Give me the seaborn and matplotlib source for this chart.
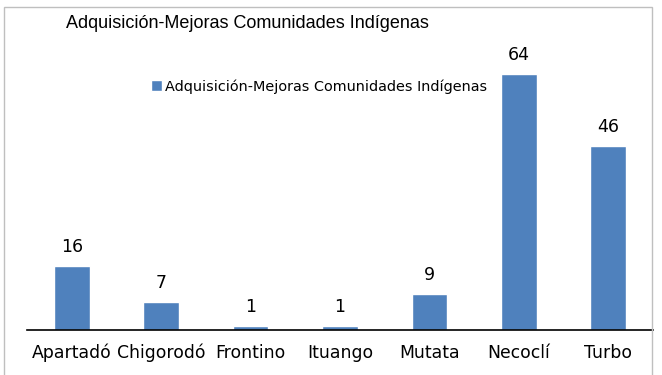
import matplotlib
matplotlib.use("Agg")
import matplotlib.pyplot as plt
from matplotlib.patches import Rectangle
import seaborn as sns
import pandas as pd

municipios = ["Apartadó", "Chigorodó", "Frontino", "Ituango", "Mutata", "Necoclí", "Turbo"]
valores = [16, 7, 1, 1, 9, 64, 46]
serie = "Adquisición-Mejoras Comunidades Indígenas"

df = pd.DataFrame({"municipio": municipios, "valor": valores, "serie": serie})

sns.set_style("white")
fig = plt.figure(figsize=(6.62, 3.75), dpi=100)
ax = fig.add_axes([27 / 662, 0.12, 626 / 662, 280 / 375])

sns.barplot(data=df, x="municipio", y="valor", hue="serie", palette=["#4F81BD"],
            width=0.40, ax=ax, saturation=1)

ax.set_ylim(0, 70)
ax.set_xlim(-0.5, 6.5)
ax.set_yticks([])
ax.set_xlabel("")
ax.set_ylabel("")
for s in ["top", "right", "left"]:
    ax.spines[s].set_visible(False)
ax.spines["bottom"].set_color("black")
ax.spines["bottom"].set_linewidth(1.2)
ax.tick_params(axis="x", length=0, labelsize=12.4, pad=10, labelcolor="black")

for c in ax.containers:
    ax.bar_label(c, fontsize=12.5, padding=7, color="black")

leg = ax.legend(loc="upper left", bbox_to_anchor=(0.177, 0.942), frameon=False,
                fontsize=10.4, handlelength=0.75, handleheight=0.75, handletextpad=0.25)
for t in leg.get_texts():
    t.set_color("black")

fig.text(66 / 662, 1 - 23 / 375, serie, fontsize=13, family="Liberation Sans",
         va="center", ha="left", color="black")

fig.patches.append(Rectangle((4 / 662, -0.1), 648 / 662, 1.1 - 7 / 375,
                             transform=fig.transFigure, fill=False,
                             edgecolor="#BFBFBF", linewidth=1))

fig.savefig("out.png", dpi=100)
